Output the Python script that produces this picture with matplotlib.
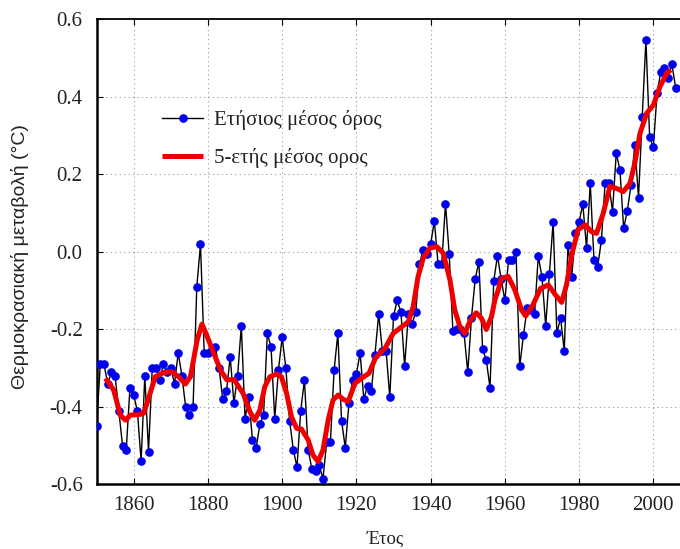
import matplotlib
matplotlib.use("Agg")
import matplotlib.pyplot as plt
from matplotlib.ticker import FuncFormatter

years = list(range(1850, 2007))
annual = [
    -0.45, -0.29, -0.29, -0.34, -0.31, -0.32, -0.41, -0.50, -0.51, -0.35,
    -0.37, -0.41, -0.54, -0.32, -0.515, -0.30, -0.30, -0.33, -0.29, -0.31,
    -0.30, -0.34, -0.26, -0.32, -0.40, -0.42, -0.40, -0.09, 0.02, -0.26,
    -0.26, -0.25, -0.245, -0.30, -0.38, -0.36, -0.27, -0.39, -0.32, -0.19,
    -0.43, -0.375, -0.485, -0.505, -0.445, -0.42, -0.21, -0.245, -0.43, -0.305,
    -0.22, -0.30, -0.435, -0.51, -0.555, -0.41, -0.33, -0.51, -0.56, -0.565,
    -0.55, -0.585, -0.49, -0.49, -0.305, -0.21, -0.435, -0.505, -0.39, -0.33,
    -0.315, -0.26, -0.38, -0.345, -0.36, -0.265, -0.16, -0.255, -0.255, -0.375,
    -0.165, -0.125, -0.155, -0.295, -0.16, -0.185, -0.155, -0.03, 0.005, -0.005,
    0.02, 0.08, -0.03, -0.03, 0.125, -0.005, -0.205, -0.20, -0.20, -0.21,
    -0.31, -0.17, -0.07, -0.025, -0.25, -0.28, -0.35, -0.075, -0.01, -0.07,
    -0.125, -0.02, -0.02, 0.0, -0.295, -0.215, -0.145, -0.15, -0.16, -0.01,
    -0.065, -0.19, -0.057, 0.078, -0.21, -0.17, -0.255, 0.018, -0.064, 0.048,
    0.078, 0.124, 0.01, 0.177, -0.02, -0.038, 0.03, 0.177, 0.177, 0.104,
    0.255, 0.212, 0.061, 0.107, 0.174, 0.276, 0.14, 0.349, 0.547, 0.296,
    0.27, 0.41, 0.465, 0.475, 0.45, 0.484, 0.424,
]

smooth_years = [
    1852.4, 1854.6, 1856.4, 1857.8, 1859.1, 1861.8, 1862.7, 1864.0, 1865.8, 1868.1,
    1870.3, 1872.1, 1873.9, 1875.3, 1877.1, 1878.4, 1879.8, 1881.6, 1883.4, 1885.1,
    1887.0, 1889.5, 1891.3, 1892.6, 1894.0, 1895.3, 1896.7, 1898.5, 1899.8, 1901.2,
    1902.5, 1903.9, 1905.2, 1907.0, 1908.3, 1909.7, 1911.0, 1912.4, 1913.7, 1915.1,
    1916.4, 1917.8, 1919.6, 1921.4, 1923.4, 1925.2, 1927.7, 1929.9, 1932.2, 1934.0,
    1935.3, 1936.6, 1938.0, 1939.8, 1941.6, 1943.4, 1945.2, 1946.5, 1947.9, 1949.2,
    1950.6, 1952.3, 1953.7, 1955.0, 1956.4, 1957.3, 1958.2, 1959.1, 1960.9, 1962.7,
    1964.5, 1965.6, 1967.6, 1969.6, 1971.7, 1973.5, 1975.3, 1976.6, 1978.0, 1979.7,
    1981.6, 1983.4, 1984.7, 1986.5, 1988.3, 1990.1, 1991.9, 1993.7, 1995.0, 1996.4,
    1998.2, 2000.0, 2001.8, 2003.6, 2004.7,
]
smooth_vals = [
    -0.326, -0.356, -0.421, -0.434, -0.421, -0.419, -0.416, -0.378, -0.322, -0.311,
    -0.309, -0.322, -0.341, -0.322, -0.227, -0.186, -0.218, -0.262, -0.305, -0.330,
    -0.329, -0.365, -0.412, -0.434, -0.408, -0.348, -0.322, -0.315, -0.322, -0.365,
    -0.425, -0.455, -0.457, -0.485, -0.524, -0.541, -0.511, -0.434, -0.382, -0.369,
    -0.380, -0.386, -0.339, -0.326, -0.313, -0.272, -0.249, -0.210, -0.193, -0.180,
    -0.141, -0.064, -0.016, 0.010, 0.014, -0.003, -0.072, -0.150, -0.193, -0.210,
    -0.178, -0.157, -0.171, -0.200, -0.167, -0.124, -0.098, -0.068, -0.063, -0.098,
    -0.150, -0.165, -0.136, -0.094, -0.085, -0.109, -0.130, -0.085, -0.008, 0.057,
    0.070, 0.052, 0.048, 0.100, 0.169, 0.164, 0.156, 0.177, 0.229, 0.306,
    0.358, 0.379, 0.427, 0.461, 0.470,
]

xticks = [1860, 1880, 1900, 1920, 1940, 1960, 1980, 2000]
yticks = [-0.6, -0.4, -0.2, 0.0, 0.2, 0.4, 0.6]

label_annual = "Ετήσιος μέσος όρος"
label_smooth = "5-ετής μέσος ορος"
xlabel = "Έτος"
ylabel = "Θερμοκρασιακή μεταβολή (°C)"

plt.rcParams['font.family'] = ['Liberation Serif', 'DejaVu Serif']

fig = plt.figure(figsize=(6.8, 5.49), dpi=100)
ax = fig.add_axes([0.142, 0.1175, 1.0154 - 0.142, 0.847])

ax.plot(years, annual, color='black', lw=1.0, marker='o', ms=5.2,
        mfc='#0000ee', mec='#0000ee', label=label_annual, zorder=3)
ax.plot(smooth_years, smooth_vals, color='#ee0000', lw=3.6,
        solid_capstyle='butt', label=label_smooth, zorder=4)

ax.set_xlim(1850, 2010)
ax.set_ylim(-0.6, 0.6)
ax.set_xticks(xticks)
ax.set_yticks(yticks)
ax.yaxis.set_major_formatter(FuncFormatter(lambda v, p: ("%.1f" % v).replace("\u2212", "-")))
ax.tick_params(direction='in', length=4, width=0.8, top=True, labelsize=15,
               labelcolor='#222222')
ax.tick_params(axis='x', pad=8)
ax.tick_params(axis='y', pad=10)

ax.grid(True, color='#999999', linestyle=(0, (1, 3)), linewidth=0.8)
ax.set_axisbelow(True)

ax.spines['right'].set_visible(False)
ax.spines['left'].set_linewidth(1.8)
ax.spines['bottom'].set_linewidth(1.8)
ax.spines['top'].set_linewidth(1.3)

ax.set_xlabel(xlabel, fontsize=13.5, color='#222222')
ax.xaxis.set_label_coords((385 - 96.5) / (690.5 - 96.5), -0.1)
ax.set_ylabel(ylabel, fontsize=14, color='#222222',
              family=['Liberation Sans', 'DejaVu Sans'])
ax.yaxis.set_label_coords((29 - 96.5) / (690.5 - 96.5), 0.491)

leg = ax.legend(loc='upper left', bbox_to_anchor=(0.079, 0.845), frameon=False,
                fontsize=15, handlelength=1.95, labelspacing=0.85, numpoints=1,
                handletextpad=0.55)
for t in leg.get_texts():
    t.set_color('#222222')

fig.savefig("out.png", dpi=100)
